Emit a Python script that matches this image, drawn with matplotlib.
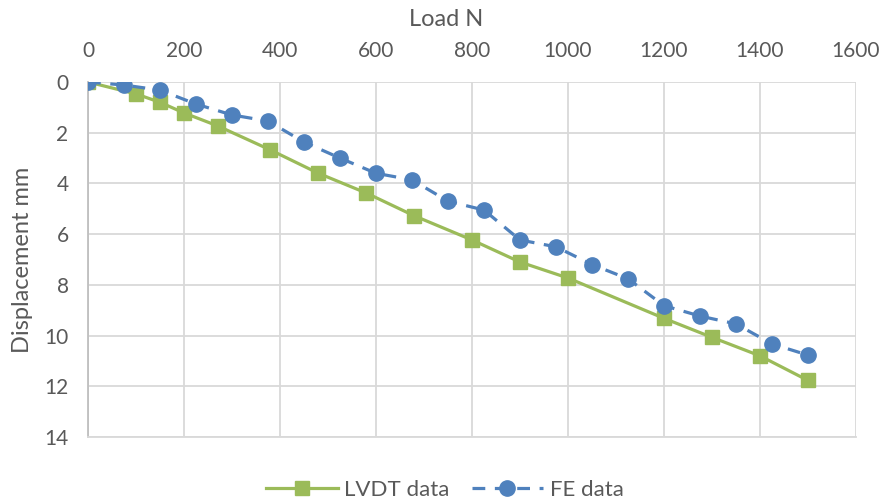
import matplotlib
matplotlib.use('Agg')
import matplotlib.pyplot as plt

# Load (N) vs displacement (mm)
lvdt_load = [0, 100, 150, 200, 270, 380, 480, 580, 680, 800, 900, 1000, 1200, 1300, 1400, 1500]
lvdt_disp = [0, 0.47, 0.8, 1.22, 1.73, 2.68, 3.6, 4.38, 5.28, 6.23, 7.1, 7.73, 9.32, 10.07, 10.8, 11.77]

fe_load = [0, 75, 150, 225, 300, 375, 450, 525, 600, 675, 750, 825, 900, 975, 1050,
           1125, 1200, 1275, 1350, 1425, 1500]
fe_disp = [0, 0.12, 0.32, 0.87, 1.3, 1.54, 2.37, 3.0, 3.6, 3.86, 4.7, 5.05, 6.23, 6.5, 7.2,
           7.76, 8.82, 9.23, 9.54, 10.33, 10.77]

green = '#9BBB59'
blue = '#4F81BD'
txt = '#595959'
grid = '#D9D9D9'

plt.rcParams['font.family'] = ['Lato', 'DejaVu Sans']

fig = plt.figure(figsize=(8.85, 5.03), dpi=100)
ax = fig.add_axes([88/885, 1-437/503, 768/885, 355/503])

ax.plot(lvdt_load, lvdt_disp, color=green, lw=2.3, marker='s', ms=10.5,
        label='LVDT data', zorder=3)
ax.plot(fe_load, fe_disp, color=blue, lw=2.3, marker='o', ms=11,
        dashes=(4, 3), label='FE data', zorder=4)

ax.set_xlim(0, 1600)
ax.set_ylim(14, 0)
ax.set_xticks(range(0, 1601, 200))
ax.set_yticks(range(0, 15, 2))
ax.xaxis.tick_top()
ax.xaxis.set_label_position('top')
ax.tick_params(axis='both', length=0, labelsize=15, colors=txt)
ax.tick_params(axis='x', pad=15)
ax.tick_params(axis='y', pad=14)
ax.set_xlabel('Load N', fontsize=17, color=txt, labelpad=11)
ax.xaxis.label.set_x((446 - 88) / 768)
ax.set_ylabel('Displacement mm', fontsize=17, color=txt, labelpad=8)

ax.grid(True, color=grid, lw=1.3)
ax.set_axisbelow(True)
for s in ['top', 'right']:
    ax.spines[s].set_visible(False)
ax.spines['left'].set_color('#BFBFBF')
ax.spines['left'].set_linewidth(1.3)
ax.spines['bottom'].set_color(grid)
ax.spines['bottom'].set_linewidth(1.3)

leg = fig.legend(loc='center', bbox_to_anchor=(445/885, 1-490/503), ncol=2,
                 frameon=False, fontsize=16, handlelength=3.2, columnspacing=1.0,
                 handletextpad=0.3)
for t in leg.get_texts():
    t.set_color(txt)

fig.savefig('out.png', dpi=100)
